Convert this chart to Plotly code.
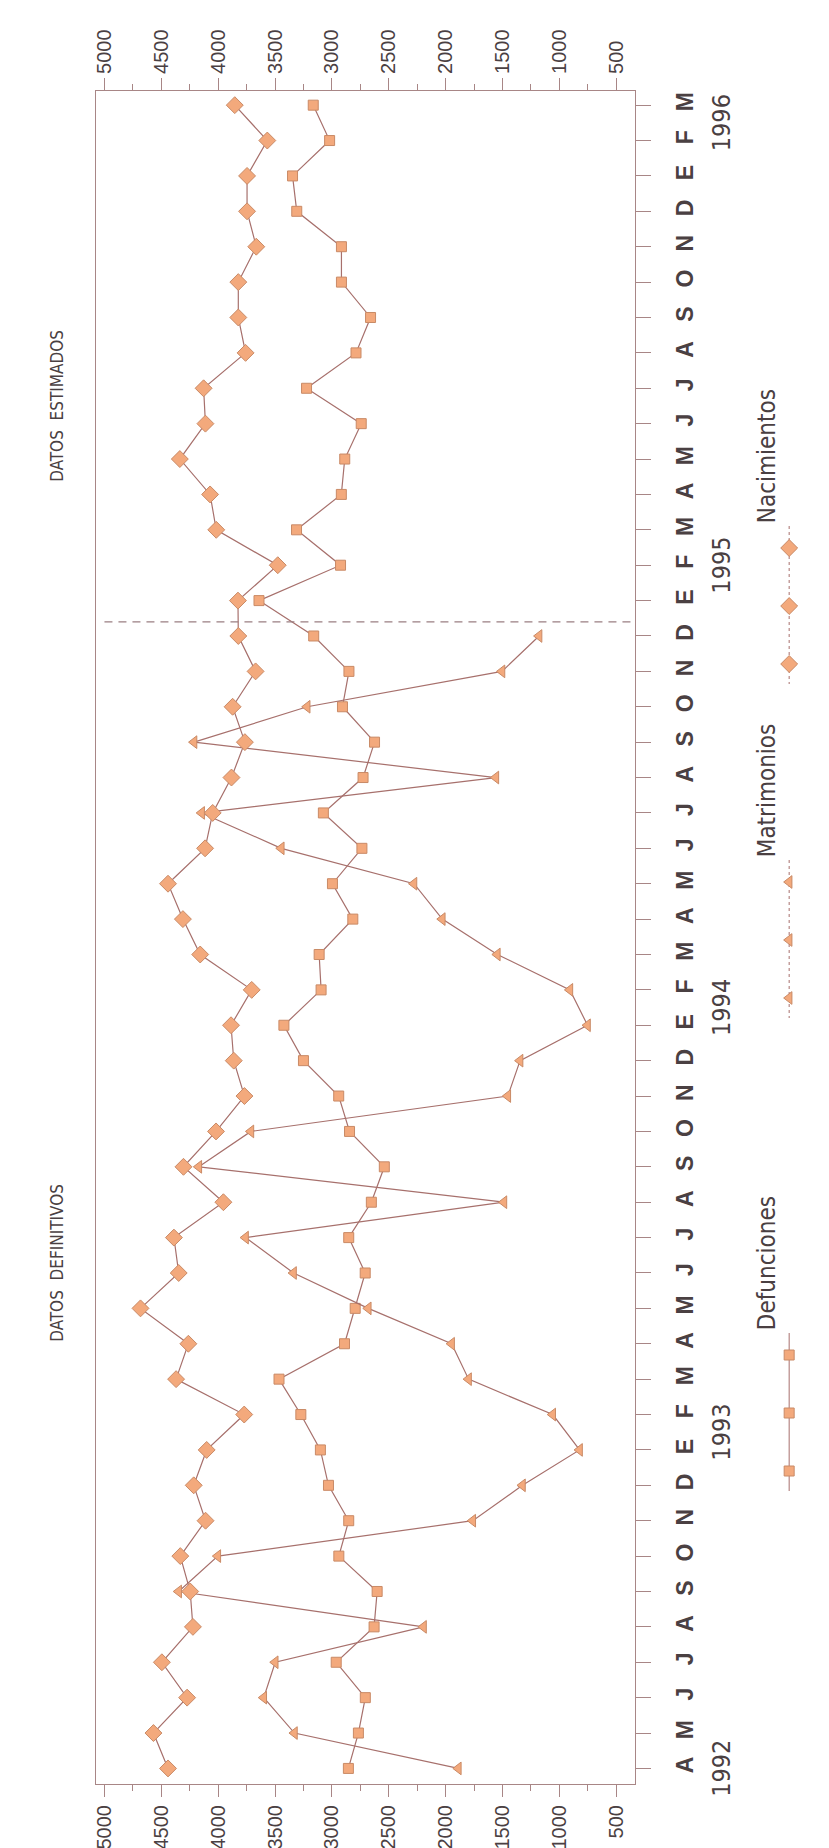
import plotly.graph_objects as go

W, H = 829, 1848

# ---------------- data ----------------
months = (["A", "M", "J", "J", "A", "S", "O", "N", "D"]
          + ["E", "F", "M", "A", "M", "J", "J", "A", "S", "O", "N", "D"] * 3
          + ["E", "F", "M"])
idx = list(range(len(months)))  # 0 = Abr 1992 ... 47 = Mar 1996

nacimientos = [4441, 4569, 4273, 4495, 4222, 4246, 4333, 4111, 4215,
               4101, 3771, 4370, 4262, 4683, 4347, 4389, 3954, 4305, 4019, 3769, 3863,
               3887, 3705, 4158, 4310, 4441, 4115, 4048, 3883, 3765, 3873, 3671, 3823,
               3826, 3476, 4017, 4071, 4337, 4112, 4128, 3759, 3823, 3823, 3665, 3746,
               3746, 3568, 3854]

defunciones = [2855, 2767, 2706, 2962, 2629, 2602, 2939, 2852, 3030,
               3101, 3273, 3465, 2889, 2795, 2707, 2852, 2653, 2539, 2845, 2940, 3250,
               3422, 3095, 3112, 2816, 2995, 2736, 3075, 2726, 2625, 2907, 2850, 3160,
               3641, 2924, 3311, 2917, 2887, 2742, 3223, 2788, 2660, 2916, 2916, 3309,
               3346, 3020, 3164]

matrimonios = [1888, 3329, 3599, 3498, 2194, 4347, 4003, 1761, 1324,
               822, 1058, 1798, 1947, 2680, 3337, 3759, 1487, 4170, 3712, 1453, 1345,
               752, 907, 1545, 2029, 2278, 3445, 4145, 1558, 4212, 3217, 1504, 1178]

value_ticks = [500, 1000, 1500, 2000, 2500, 3000, 3500, 4000, 4500, 5000]
value_minor = [750, 1250, 1750, 2250, 2750, 3250, 3750, 4250, 4750]

years = ["1992", "1993", "1994", "1995", "1996"]
year_pos = [0.0, 9.5, 21.5, 34.0, 46.5]
cutoff = 32.4  # limite datos definitivos / estimados

# ---------------- style ----------------
LINE = "#a7706c"
FILL = "#f3a97c"
EDGE = "#c98a66"
AX = "#a88686"
TXT = "#4a4042"
NARROW = "Liberation Sans Narrow, DejaVu Sans Condensed, Liberation Sans, Arial"

def px(x):
    return x / W

def py(y):
    return 1 - y / H

fig = go.Figure()

fig.add_trace(go.Scatter(x=defunciones, y=idx, mode="lines+markers", name="Defunciones",
                         line=dict(color=LINE, width=1.2),
                         marker=dict(symbol="square", size=10, color=FILL,
                                     line=dict(color=EDGE, width=1))))
fig.add_trace(go.Scatter(x=matrimonios, y=idx[:len(matrimonios)], mode="lines+markers",
                         name="Matrimonios",
                         line=dict(color=LINE, width=1.2),
                         marker=dict(symbol="triangle-left", size=11, color=FILL,
                                     line=dict(color=EDGE, width=1))))
fig.add_trace(go.Scatter(x=nacimientos, y=idx, mode="lines+markers", name="Nacimientos",
                         line=dict(color=LINE, width=1.2),
                         marker=dict(symbol="diamond", size=13, color=FILL,
                                     line=dict(color=EDGE, width=1))))

# dashed separator between definitive and estimated data (drawn on the top axis)
fig.add_trace(go.Scatter(x=[5000, 337], y=[cutoff, cutoff], mode="lines",
                         xaxis="x2", yaxis="y",
                         line=dict(color="#9a7f82", width=1.3, dash="8px,6px"),
                         hoverinfo="skip", showlegend=False))

# ---------------- rotated legend (own axis in pixel units) ----------------
leg_items = [
    ("Nacimientos", "diamond", 13, "dot", 448),
    ("Matrimonios", "triangle-left", 11, "dot", 782),
    ("Defunciones", "square", 10, "solid", 1255),
]
sym_offsets = [92, 150, 208]
LEG_SYM_X = 781
LEG_TXT_X = 759
for name, sym, size, dash, tcy in leg_items:
    ys = [tcy + o for o in sym_offsets]
    fig.add_trace(go.Scatter(x=[LEG_SYM_X] * 2, y=[ys[0] - 22, ys[-1] + 20], mode="lines",
                             line=dict(color=LINE, width=1, dash=dash),
                             xaxis="x3", yaxis="y3", showlegend=False, hoverinfo="skip"))
    fig.add_trace(go.Scatter(x=[LEG_SYM_X] * 3, y=ys, mode="markers",
                             marker=dict(symbol=sym, size=size, color=FILL,
                                         line=dict(color=EDGE, width=1)),
                             xaxis="x3", yaxis="y3", showlegend=False, hoverinfo="skip"))
    fig.add_annotation(x=px(LEG_TXT_X), y=py(tcy), xref="paper", yref="paper",
                       xanchor="center", yanchor="middle",
                       text=name, showarrow=False, textangle=-90,
                       font=dict(family=NARROW, size=24, color=TXT))

# ---------------- annotations ----------------
fig.add_annotation(x=px(46), y=py(398), xref="paper", yref="paper",
                   xanchor="center", yanchor="middle",
                   text="DATOS  ESTIMADOS", showarrow=False, textangle=-90,
                   font=dict(family=NARROW, size=17, color=TXT))
fig.add_annotation(x=px(46), y=py(1255), xref="paper", yref="paper",
                   xanchor="center", yanchor="middle",
                   text="DATOS  DEFINITIVOS", showarrow=False, textangle=-90,
                   font=dict(family=NARROW, size=17, color=TXT))
for yr, pos in zip(years, year_pos):
    fig.add_annotation(x=px(713), y=pos, xref="paper", yref="y",
                       xanchor="center", yanchor="middle",
                       text=yr, showarrow=False, textangle=-90,
                       font=dict(family=NARROW, size=25, color=TXT))

xcommon = dict(range=[5077, 337], tickvals=value_ticks, ticktext=[str(v) for v in value_ticks],
               ticks="outside", ticklen=12, tickwidth=1, tickcolor=AX,
               showline=True, linecolor=AX, linewidth=1.2,
               tickangle=-90, tickfont=dict(family="Liberation Sans, Arial", size=20, color=TXT),
               showgrid=False, zeroline=False,
               minor=dict(tickvals=value_minor, ticks="outside", ticklen=6, tickcolor=AX, tickwidth=1),
               fixedrange=True)

fig.update_layout(
    width=W, height=H, autosize=False,
    margin=dict(l=0, r=0, t=0, b=0),
    paper_bgcolor="white", plot_bgcolor="rgba(0,0,0,0)",
    showlegend=False,
    xaxis=dict(**xcommon, side="bottom", anchor="y", mirror=True, domain=[px(85), px(626)]),
    xaxis2=dict(**xcommon, side="top", anchor="y", overlaying="x"),
    yaxis=dict(range=[-0.44, 47.4], tickvals=idx, ticktext=months, side="right",
               ticks="outside", ticklen=15, tickwidth=1, tickcolor=AX,
               showline=True, linecolor=AX, linewidth=1.2, mirror=True,
               tickangle=-90, ticklabelstandoff=15,
               tickfont=dict(family="Liberation Sans, Arial", size=23, color=TXT, weight="bold"),
               showgrid=False, zeroline=False,
               domain=[py(1776), py(83)], anchor="x", fixedrange=True),
    xaxis3=dict(range=[0, W], domain=[0, 1], visible=False, anchor="y3", fixedrange=True),
    yaxis3=dict(range=[H, 0], domain=[0, 1], visible=False, anchor="x3", fixedrange=True),
)

fig.write_html("out.html")
